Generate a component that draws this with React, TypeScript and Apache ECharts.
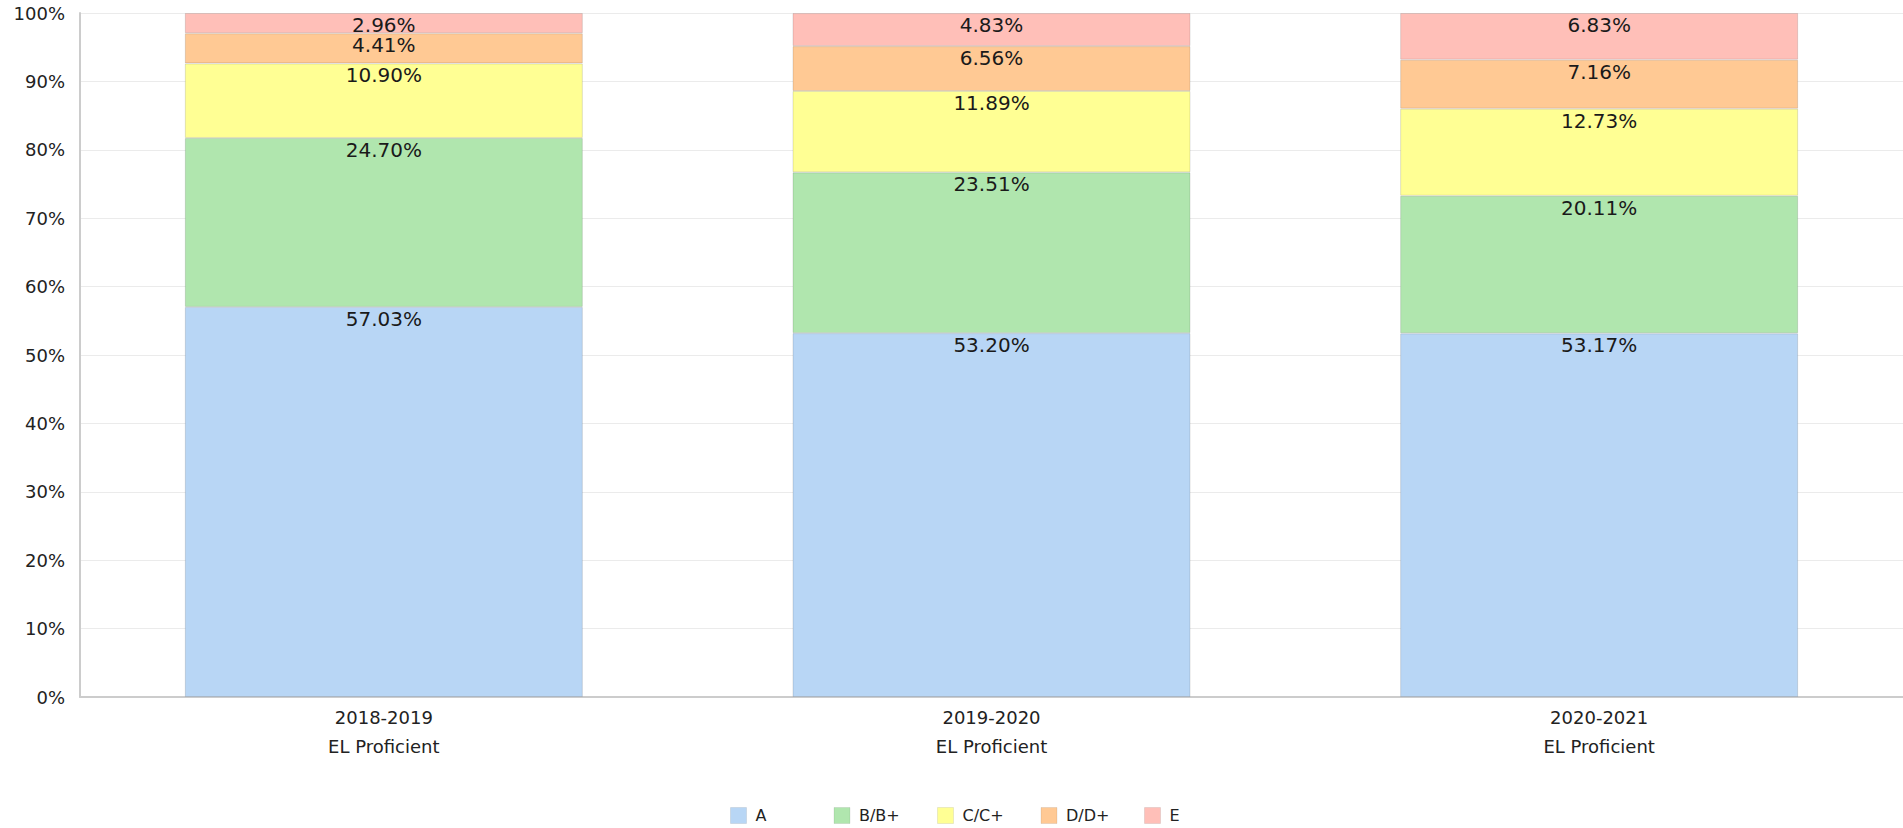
import React, { useEffect, useRef } from "react";
import * as echarts from "echarts";

const categories = ["2018-2019\nEL Proficient", "2019-2020\nEL Proficient", "2020-2021\nEL Proficient"];
const seriesNames = ["A", "B/B+", "C/C+", "D/D+", "E"];
const valuesA = [57.03, 53.2, 53.17];
const valuesB = [24.7, 23.51, 20.11];
const valuesC = [10.9, 11.89, 12.73];
const valuesD = [4.41, 6.56, 7.16];
const valuesE = [2.96, 4.83, 6.83];
const colors = ["#b8d6f5", "#b0e6ae", "#ffff94", "#ffc994", "#ffbfb8"];

export default function App() {
  const ref = useRef<HTMLDivElement>(null);
  useEffect(() => {
    if (!ref.current) return;
    const chart = echarts.init(ref.current, undefined, { renderer: "svg" });
    const allValues = [valuesA, valuesB, valuesC, valuesD, valuesE];
    chart.setOption({
      animation: false,
      backgroundColor: "#ffffff",
      grid: { left: 80, width: 1830, top: 13, height: 684 },
      legend: seriesNames.map((name, i) => ({
        left: 730 + i * 103.5,
        top: 807,
        padding: 0,
        itemWidth: 16,
        itemHeight: 16,
        icon: "rect",
        itemStyle: { borderColor: "rgba(0,0,0,0.08)", borderWidth: 1 },
        textStyle: { fontFamily: "DejaVu Sans", fontSize: 16, color: "#222", padding: [0, 0, 0, 4] },
        data: [name],
      })),
      xAxis: {
        type: "category",
        data: categories,
        axisLine: { lineStyle: { color: "#cccccc", width: 2 } },
        axisTick: { show: false },
        axisLabel: { fontFamily: "DejaVu Sans", fontSize: 18, color: "#222", lineHeight: 29, margin: 6 },
      },
      yAxis: {
        type: "value",
        min: 0,
        max: 100,
        interval: 10,
        axisLine: { show: true, lineStyle: { color: "#cccccc", width: 2 } },
        axisTick: { show: false },
        splitLine: { lineStyle: { color: "#ebebeb", width: 1 } },
        axisLabel: { fontFamily: "DejaVu Sans", fontSize: 18, color: "#222", margin: 15, formatter: "{value}%" },
      },
      series: seriesNames.map((name, i) => ({
        name,
        type: "bar",
        stack: "total",
        barWidth: 398,
        data: allValues[i],
        itemStyle: { color: colors[i], borderColor: "rgba(0,0,0,0.12)", borderWidth: 1 },
        label: {
          show: true,
          position: "insideTop",
          distance: 2,
          fontFamily: "DejaVu Sans",
          fontSize: 20,
          color: "#1a1a1a",
          formatter: (p: any) => Number(p.value).toFixed(2) + "%",
        },
      })),
    });
    return () => chart.dispose();
  }, []);
  return <div ref={ref} style={{ position: "fixed", left: 0, top: 0, width: 1903, height: 828 }} />;
}
